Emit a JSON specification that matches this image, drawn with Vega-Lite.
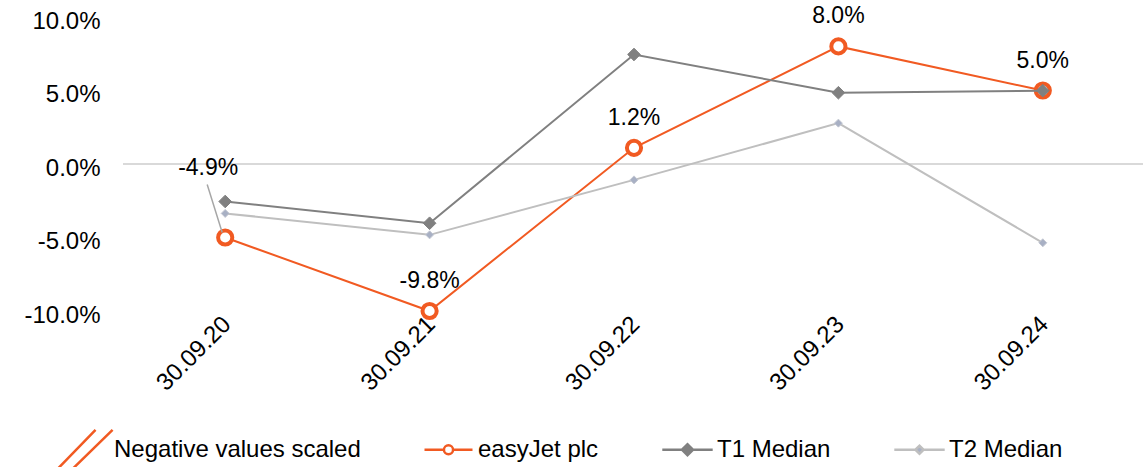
{
  "$schema": "https://vega.github.io/schema/vega-lite/v6.json",
  "width": 1022,
  "height": 294,
  "padding": {"left": 123, "top": 17, "right": 0, "bottom": 156},
  "autosize": {"type": "none"},
  "background": "white",
  "config": {
    "view": {"stroke": null},
    "font": "Liberation Sans",
    "text": {"font": "Liberation Sans"}
  },
  "data": {
    "values": [
      {"date": "30.09.20", "series": "easyJet plc", "value": -0.05, "label": "-4.9%"},
      {"date": "30.09.21", "series": "easyJet plc", "value": -0.10, "label": "-9.8%"},
      {"date": "30.09.22", "series": "easyJet plc", "value": 0.011, "label": "1.2%"},
      {"date": "30.09.23", "series": "easyJet plc", "value": 0.08, "label": "8.0%"},
      {"date": "30.09.24", "series": "easyJet plc", "value": 0.05, "label": "5.0%"},
      {"date": "30.09.20", "series": "T2 Median", "value": -0.0336},
      {"date": "30.09.21", "series": "T2 Median", "value": -0.0482},
      {"date": "30.09.22", "series": "T2 Median", "value": -0.0108},
      {"date": "30.09.23", "series": "T2 Median", "value": 0.0278},
      {"date": "30.09.24", "series": "T2 Median", "value": -0.0536},
      {"date": "30.09.20", "series": "T1 Median", "value": -0.0255},
      {"date": "30.09.21", "series": "T1 Median", "value": -0.0403},
      {"date": "30.09.22", "series": "T1 Median", "value": 0.0745},
      {"date": "30.09.23", "series": "T1 Median", "value": 0.0485},
      {"date": "30.09.24", "series": "T1 Median", "value": 0.0499}
    ]
  },
  "layer": [
    {
      "mark": {"type": "rule", "color": "#D9D9D9", "strokeWidth": 2},
      "encoding": {
        "y": {"datum": 0, "type": "quantitative",
          "scale": {"domain": [-0.1, 0.1], "nice": false, "zero": false},
          "axis": {"values": [-0.1, -0.05, 0, 0.05, 0.1], "labelExpr": "replace(format(datum.value, '.1%'), '\u2212', '-')", "title": null, "grid": false, "domain": false, "ticks": false,
            "labelFontSize": 24, "labelColor": "#000000", "labelPadding": 23, "labelOffset": 4, "labelFont": "Liberation Sans"}}
      }
    },
    {
      "transform": [{"filter": "datum.series === 'easyJet plc'"}],
      "mark": {"type": "line", "color": "#F15A22", "strokeWidth": 2},
      "encoding": {
        "x": {"field": "date", "type": "ordinal", "scale": {"type": "point", "padding": 0.5},
          "axis": {"title": null, "labelAngle": -45, "labelFontSize": 24, "labelColor": "#000000", "ticks": false, "domain": false, "labelPadding": 1, "labelOffset": -7, "labelFont": "Liberation Sans"}},
        "y": {"field": "value", "type": "quantitative"}
      }
    },
    {
      "transform": [{"filter": "datum.series === 'easyJet plc'"}],
      "mark": {"type": "point", "shape": "circle", "size": 201, "strokeWidth": 4, "fill": "#FFFFFF", "stroke": "#F15A22", "filled": true, "opacity": 1},
      "encoding": {
        "x": {"field": "date", "type": "ordinal"},
        "y": {"field": "value", "type": "quantitative"}
      }
    },
    {
      "transform": [{"filter": "datum.series === 'T2 Median'"}],
      "mark": {"type": "line", "color": "#BFBFBF", "strokeWidth": 2},
      "encoding": {
        "x": {"field": "date", "type": "ordinal"},
        "y": {"field": "value", "type": "quantitative"}
      }
    },
    {
      "transform": [{"filter": "datum.series === 'T2 Median'"}],
      "mark": {"type": "point", "shape": "diamond", "size": 64, "strokeWidth": 1, "fill": "#A8B0C4", "stroke": "#C4C8D2", "filled": true, "opacity": 1},
      "encoding": {
        "x": {"field": "date", "type": "ordinal"},
        "y": {"field": "value", "type": "quantitative"}
      }
    },
    {
      "transform": [{"filter": "datum.series === 'T1 Median'"}],
      "mark": {"type": "line", "color": "#808080", "strokeWidth": 2},
      "encoding": {
        "x": {"field": "date", "type": "ordinal"},
        "y": {"field": "value", "type": "quantitative"}
      }
    },
    {
      "transform": [{"filter": "datum.series === 'T1 Median'"}],
      "mark": {"type": "point", "shape": "diamond", "size": 160, "strokeWidth": 1, "fill": "#808080", "stroke": "#808080", "filled": true, "opacity": 1},
      "encoding": {
        "x": {"field": "date", "type": "ordinal"},
        "y": {"field": "value", "type": "quantitative"}
      }
    },
    {
      "transform": [{"filter": "datum.series === 'easyJet plc' && datum.label !== '-4.9%'"}],
      "mark": {"type": "text", "fontSize": 23, "color": "#000000", "dy": -30, "font": "Liberation Sans"},
      "encoding": {
        "x": {"field": "date", "type": "ordinal"},
        "y": {"field": "value", "type": "quantitative"},
        "text": {"field": "label"}
      }
    },
    {
      "transform": [{"filter": "datum.label === '-4.9%'"}],
      "mark": {"type": "text", "fontSize": 23, "color": "#000000", "dx": -17, "dy": -70, "font": "Liberation Sans"},
      "encoding": {
        "x": {"field": "date", "type": "ordinal"},
        "y": {"field": "value", "type": "quantitative"},
        "text": {"field": "label"}
      }
    },
    {
      "transform": [{"filter": "datum.label === '-4.9%'"}],
      "mark": {"type": "rule", "color": "#A6A6A6", "strokeWidth": 1.5, "xOffset": -18, "yOffset": -53, "x2Offset": -3, "y2Offset": -5},
      "encoding": {
        "x": {"field": "date", "type": "ordinal"},
        "y": {"field": "value", "type": "quantitative"},
        "x2": {"field": "date"},
        "y2": {"field": "value"}
      }
    },
    {
      "transform": [{"filter": "datum.series === 'easyJet plc'"}],
      "mark": {"type": "point", "opacity": 0, "filled": true},
      "encoding": {
        "x": {"field": "date", "type": "ordinal"},
        "y": {"field": "value", "type": "quantitative"},
        "shape": {"field": "series", "type": "nominal",
          "scale": {"domain": ["Negative values scaled", "easyJet plc", "T1 Median", "T2 Median"],
            "range": [
              "M0,-1 M0,1 M-1.17,0.85 L0.46,-0.83 M-0.55,0.85 L1.17,-0.83",
              "M0,-1 M0,1 M-1,0 L-0.19,0 M0.19,0 L1,0 M0.19,0 A0.19,0.19 0 1 1 -0.19,0 A0.19,0.19 0 1 1 0.19,0 Z",
              "M0,-1 M0,1 M-1.05,0 L-0.23,0 M0.23,0 L1.05,0 M-0.23,0 L0,-0.23 L0.23,0 L0,0.23 Z",
              "M0,-1 M0,1 M-1.05,0 L-0.17,0 M0.17,0 L1.05,0 M-0.17,0 L0,-0.17 L0.17,0 L0,0.17 Z"
            ]},
          "legend": {
            "title": null, "orient": "none", "legendX": -64, "legendY": 407, "direction": "horizontal",
            "columns": 4, "columnPadding": 58, "symbolSize": 2304, "symbolStrokeWidth": 2.5, "labelOffset": 4,
            "labelFontSize": 24, "labelFont": "Liberation Sans", "labelColor": "#000000", "labelLimit": 400,
            "encoding": {
              "symbols": {
                "fill": {"scale": "fill", "field": "value"},
                "stroke": {"scale": "stroke", "field": "value"},
                "opacity": {"value": 1},
                "fillOpacity": {"value": 1},
                "strokeOpacity": {"value": 1}
              }
            }
          }
        },
        "fill": {"field": "series", "type": "nominal", "legend": null,
          "scale": {"domain": ["Negative values scaled", "easyJet plc", "T1 Median", "T2 Median"],
            "range": ["transparent", "#FFFFFF", "#808080", "#A8B0C4"]}},
        "stroke": {"field": "series", "type": "nominal", "legend": null,
          "scale": {"domain": ["Negative values scaled", "easyJet plc", "T1 Median", "T2 Median"],
            "range": ["#F15A22", "#F15A22", "#808080", "#BFBFBF"]}}
      }
    }
  ]
}
